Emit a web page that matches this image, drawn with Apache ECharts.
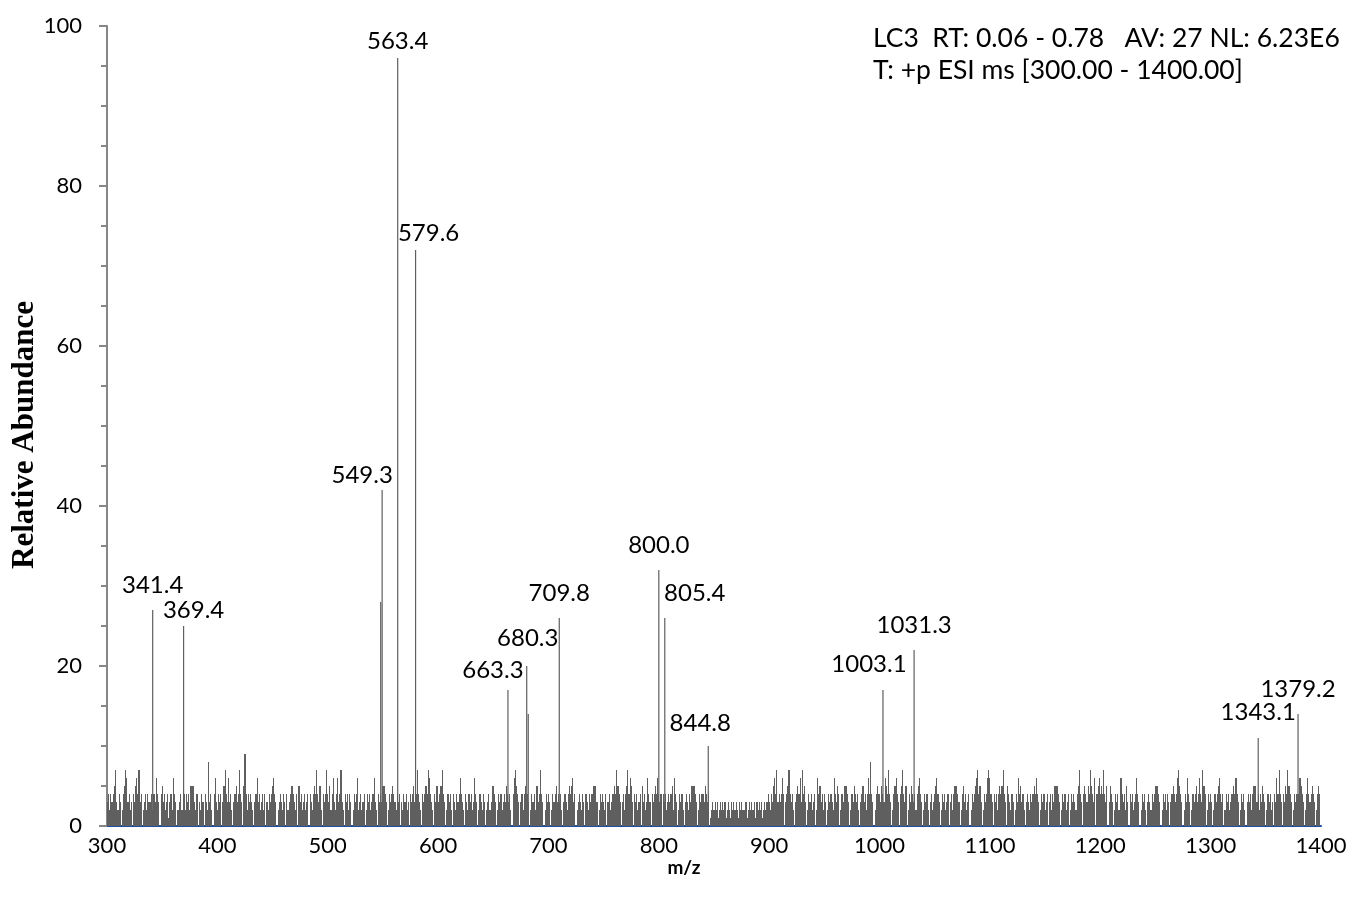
<!DOCTYPE html>
<html>
<head>
<meta charset="utf-8">
<title>LC3 ESI mass spectrum</title>
<script src="https://cdn.jsdelivr.net/npm/echarts@6/dist/echarts.min.js"></script>
<style>
  html, body { margin: 0; padding: 0; background: #ffffff; }
  #chart { width: 1351px; height: 908px; }
</style>
</head>
<body>
<div id="chart"></div>
<script>
// Axis ticks
const mzTicks = [300, 400, 500, 600, 700, 800, 900, 1000, 1100, 1200, 1300, 1400];
const abundanceTicks = [0, 20, 40, 60, 80, 100];

// Baseline noise: one relative-abundance digit per integer m/z, starting at 300
const noiseStart = 300;
const noiseRows = [
  "3424334573243024576342304356473402342433424436430453423413426430223423424342555324403243043283420463",
  "2434035743634203453474305942434320346342342403243456430234324304234554324053423423404324547435204347",
  "4352463246347320434243024346234234024342346320434355430243454324340324342304345347432043454764320435",
  "3455743024342043243464320432434236430243243023423554302434234354342046754303424544302434255347430243",
  "4302434534342034324545634023432430432434455530243432403423445475430342457465304342340534236430434546",
  "4340434234345264302434203432435554302434435434012323231232323123213232321323222312323223132323123234",
  "3243564734346403457434203454637453024342340264534243024343264354024355543024354342034534246484302454",
  "4354365474302456430457435024354342456430243420342345643024342340342455543024534234024345674530243467",
  "6430434245457430543243024364534203432434546430243423403424355543024342340243432457430454354754360456",
  "4547435035430243426643425304342346430243420343243455543024342430345434675430243643024345346437540243",
  "4302434564340243423445464302434203434245553424354302434230436474304354754302434446543024643454302454"
];
const noiseLevels = noiseRows.join("").split("").map(Number);

// Labelled peaks
const peakMz = [341.4, 369.4, 549.3, 563.4, 579.6, 663.3, 680.3, 709.8, 800.0, 805.4, 844.8, 1003.1, 1031.3, 1343.1, 1379.2];
const peakAbundance = [27, 25, 42, 96, 72, 17, 20, 26, 32, 26, 10, 17, 22, 11, 14];

// Unlabelled peaks
const minorPeakMz = [548.0, 681.7];
const minorPeakAbundance = [28, 14];

// Scan header
const headerLines = [
  "LC3  RT: 0.06 - 0.78   AV: 27 NL: 6.23E6",
  "T: +p ESI ms [300.00 - 1400.00]"
];

// Label nudges (px) so neighbouring peak labels do not collide
const labelNudge = {
  369.4: [10, 9], 549.3: [-20, 10], 563.4: [0, 8], 579.6: [13, 8],
  663.3: [-15, 5], 680.3: [1, -3], 805.4: [30, 0], 844.8: [-8, 2],
  1003.1: [-14, -1], 1343.1: [0, -1]
};

const FONT = "Lato, 'Open Sans', sans-serif";
const barColor = "#5f5f5f";
const axisGrey = "#868686";

const noiseData = noiseLevels.map((v, i) => [noiseStart + i, v]);
const peakData = peakMz.map((mz, i) => ({
  value: [mz, peakAbundance[i]],
  label: { offset: labelNudge[mz] || [0, 0] }
}));
const minorData = minorPeakMz.map((mz, i) => [mz, minorPeakAbundance[i]]);

// One column per integer m/z, snapped to whole pixels so neighbours join up solidly
function renderNoise(params, api) {
  const mz = api.value(0);
  const level = api.value(1);
  if (!level) return null;
  const left = api.coord([mz - 0.5, 0]);
  const right = api.coord([mz + 0.5, level]);
  const x0 = Math.round(left[0]);
  const x1 = Math.round(right[0]);
  const yTop = Math.round(right[1]);
  const yBase = left[1];
  return {
    type: "rect",
    shape: { x: x0, y: yTop, width: Math.max(1, x1 - x0), height: yBase - yTop },
    style: { fill: barColor }
  };
}

const chart = echarts.init(document.getElementById("chart"), null, { renderer: "canvas" });

chart.setOption({
  animation: false,
  backgroundColor: "#ffffff",
  grid: { left: 107, right: 30, top: 26, bottom: 82, containLabel: false },
  xAxis: {
    type: "value",
    min: mzTicks[0],
    max: mzTicks[mzTicks.length - 1],
    interval: 100,
    axisLine: { show: true, onZero: true, lineStyle: { color: "#1f4ea3", width: 2 } },
    axisTick: { show: false },
    splitLine: { show: false },
    axisLabel: { color: "#000", fontFamily: FONT, fontSize: 22, margin: 9,
      formatter: v => String(v) }
  },
  yAxis: {
    type: "value",
    min: abundanceTicks[0],
    max: abundanceTicks[abundanceTicks.length - 1],
    interval: 20,
    axisLine: { show: true, lineStyle: { color: axisGrey, width: 2 } },
    axisTick: { show: true, inside: false, length: 8, lineStyle: { color: axisGrey, width: 2 } },
    minorTick: { show: true, splitNumber: 4, length: 6, lineStyle: { color: axisGrey, width: 2 } },
    splitLine: { show: false },
    axisLabel: { color: "#000", fontFamily: FONT, fontSize: 22, margin: 25 }
  },
  series: [
    {
      name: "noise",
      type: "custom",
      data: noiseData,
      encode: { x: 0, y: 1 },
      renderItem: renderNoise,
      clip: true,
      silent: true,
      z: 2
    },
    {
      name: "minor peaks",
      type: "bar",
      data: minorData,
      barWidth: 1.2,
      barGap: "-100%",
      itemStyle: { color: barColor },
      emphasis: { disabled: true },
      silent: true,
      z: 3
    },
    {
      name: "peaks",
      type: "bar",
      data: peakData,
      barWidth: 1.2,
      barGap: "-100%",
      itemStyle: { color: barColor },
      emphasis: { disabled: true },
      silent: true,
      z: 3,
      label: {
        show: true,
        position: "top",
        distance: 13,
        color: "#000",
        fontFamily: FONT,
        fontSize: 24,
        formatter: p => p.value[0].toFixed(1)
      }
    }
  ],
  graphic: [
    {
      type: "text", left: 873, top: 25,
      style: { text: headerLines[0], fill: "#000", font: "26.5px " + FONT }
    },
    {
      type: "text", left: 873, top: 57,
      style: { text: headerLines[1], fill: "#000", font: "26.5px " + FONT }
    },
    {
      type: "text", x: 25, y: 435, rotation: Math.PI / 2,
      style: { text: "Relative Abundance", fill: "#000",
        font: "bold 31px 'Liberation Serif', 'DejaVu Serif', serif",
        align: "center", verticalAlign: "middle" }
    },
    {
      type: "text", x: 684, y: 868,
      style: { text: "m/z", fill: "#000", font: "bold 19px " + FONT,
        align: "center", verticalAlign: "middle" }
    }
  ]
});
</script>
</body>
</html>
